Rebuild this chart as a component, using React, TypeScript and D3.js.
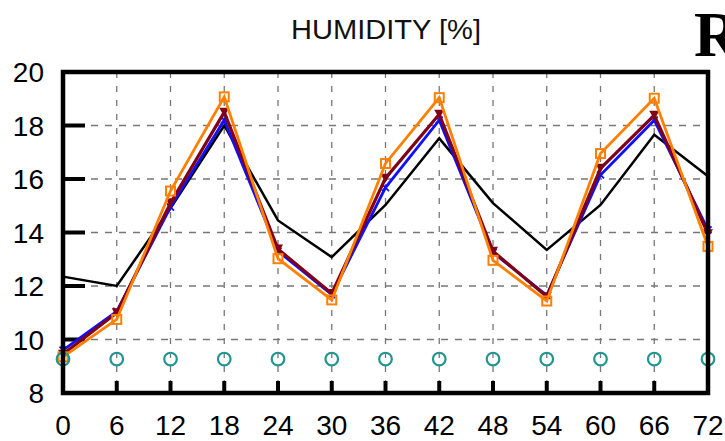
import React from "react";
import * as d3 from "d3";

const hours = [0, 6, 12, 18, 24, 30, 36, 42, 48, 54, 60, 66, 72];
const blackSeries = [12.35, 12.0, 14.9, 18.0, 14.45, 13.08, 15.03, 17.52, 15.1, 13.35, 15.03, 17.65, 16.1];
const blueSeries = [9.6, 11.05, 14.95, 18.2, 13.3, 11.68, 15.68, 18.2, 13.25, 11.65, 16.15, 18.2, 14.1];
const redSeries = [9.45, 11.0, 15.1, 18.5, 13.38, 11.72, 16.03, 18.42, 13.3, 11.6, 16.4, 18.38, 13.95];
const orangeSeries = [9.35, 10.75, 15.55, 19.07, 13.02, 11.48, 16.58, 19.04, 12.96, 11.44, 16.95, 19.02, 13.48];
const obsSeries = [9.27, 9.27, 9.27, 9.27, 9.27, 9.27, 9.27, 9.27, 9.27, 9.27, 9.27, 9.27, 9.27];
const yTicks = [8, 10, 12, 14, 16, 18, 20];
const xTicks = [0, 6, 12, 18, 24, 30, 36, 42, 48, 54, 60, 66, 72];
const title = "HUMIDITY [%]";
const cornerLetter = "R";

export default function App() {
  const W = 725, H = 441;
  const L = 63, R = 708, T = 72, B = 393;
  const x = d3.scaleLinear().domain([0, 72]).range([L, R]);
  const y = d3.scaleLinear().domain([8, 20]).range([B, T]);
  const line = (vals: number[]) =>
    d3.line<number>().x((_, i) => x(hours[i])).y((v) => y(v))(vals) || "";
  const font = "'Liberation Sans', Arial, Helvetica, sans-serif";

  return (
    <svg width={W} height={H} style={{ position: "absolute", left: 0, top: 0, background: "#fff" }}>
      <rect width={W} height={H} fill="#fff" />
      <text x={386} y={39} textAnchor="middle" fontFamily={font} fontSize={27} fill="#111" textLength={190} lengthAdjust="spacingAndGlyphs">{title}</text>
      <text x={694} y={56} fontFamily="'Liberation Serif', 'DejaVu Serif', serif" fontSize={63} fontWeight="bold" fill="#000">{cornerLetter}</text>
      {/* grid */}
      {xTicks.slice(1, -1).map((t) => (
        <line key={"gx" + t} x1={x(t)} x2={x(t)} y1={T} y2={B} stroke="#777" strokeWidth={1.3} strokeDasharray="6,8" />
      ))}
      {yTicks.slice(1, -1).map((t) => (
        <line key={"gy" + t} x1={L} x2={R} y1={y(t)} y2={y(t)} stroke="#777" strokeWidth={1.3} strokeDasharray="7,7" />
      ))}
      {/* ticks */}
      {yTicks.map((t) => (
        <line key={"ty" + t} x1={L} x2={L + 22} y1={y(t)} y2={y(t)} stroke="#000" strokeWidth={4} />
      ))}
      {xTicks.map((t) => (
        <line key={"tx" + t} x1={x(t)} x2={x(t)} y1={B} y2={B - 12} stroke="#000" strokeWidth={4} />
      ))}
      {/* series */}
      <path d={line(blackSeries)} fill="none" stroke="#000" strokeWidth={2.5} />
      <path d={line(blueSeries)} fill="none" stroke="#1010ff" strokeWidth={2.8} />
      {blueSeries.map((v, i) => (
        <path key={"bm" + i} d={`M${x(hours[i]) - 3.5},${y(v) - 3.5}L${x(hours[i]) + 3.5},${y(v) + 3.5}M${x(hours[i]) - 3.5},${y(v) + 3.5}L${x(hours[i]) + 3.5},${y(v) - 3.5}`} stroke="#1010ff" strokeWidth={1.8} />
      ))}
      <path d={line(redSeries)} fill="none" stroke="#800018" strokeWidth={3.2} />
      {redSeries.map((v, i) => (
        <path key={"rm" + i} d={`M${x(hours[i]) - 5},${y(v) - 4.5}L${x(hours[i]) + 5},${y(v) - 4.5}L${x(hours[i])},${y(v) + 4.5}Z`} fill="#800018" />
      ))}
      <path d={line(orangeSeries)} fill="none" stroke="#ff8000" strokeWidth={2.8} />
      {orangeSeries.map((v, i) => (
        <rect key={"om" + i} x={x(hours[i]) - 4.5} y={y(v) - 4.5} width={9} height={9} fill="none" stroke="#ff8000" strokeWidth={2} />
      ))}
      {obsSeries.map((v, i) => (
        <circle key={"ob" + i} cx={x(hours[i])} cy={y(v)} r={6.3} fill="none" stroke="#21968f" strokeWidth={2.2} />
      ))}
      {/* frame */}
      <rect x={L} y={T} width={R - L} height={B - T} fill="none" stroke="#000" strokeWidth={4.5} />
      {/* labels */}
      {yTicks.map((t) => (
        <text key={"ly" + t} x={44} y={y(t) + 10} textAnchor="end" fontFamily={font} fontSize={28} fill="#000">{t}</text>
      ))}
      {xTicks.map((t) => (
        <text key={"lx" + t} x={x(t)} y={435} textAnchor="middle" fontFamily={font} fontSize={28} fill="#000">{t}</text>
      ))}
    </svg>
  );
}
